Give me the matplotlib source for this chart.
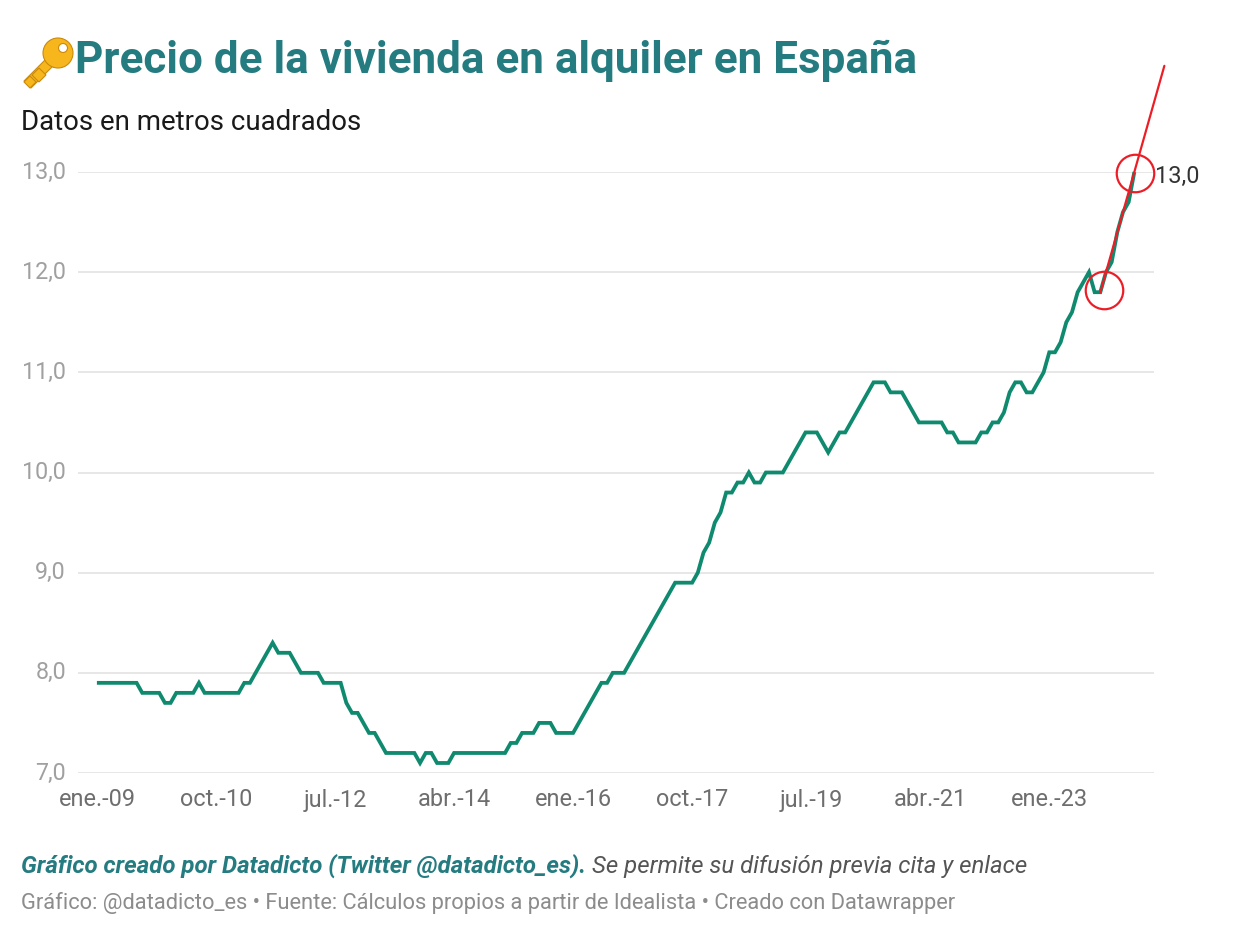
import numpy as np
import matplotlib
matplotlib.use("Agg")
import matplotlib.pyplot as plt
import matplotlib.transforms as mtransforms
from matplotlib.patches import Polygon, Ellipse

# ---------------- data (monthly, ene.-09 .. abr.-24), €/m2 ----------------
precio_2009 = [7.9, 7.9, 7.9, 7.9, 7.9, 7.9, 7.9, 7.9, 7.8, 7.8, 7.8, 7.8]
precio_2010 = [7.7, 7.7, 7.8, 7.8, 7.8, 7.8, 7.9, 7.8, 7.8, 7.8, 7.8, 7.8]
precio_2011 = [7.8, 7.8, 7.9, 7.9, 8.0, 8.1, 8.2, 8.3, 8.2, 8.2, 8.2, 8.1]
precio_2012 = [8.0, 8.0, 8.0, 8.0, 7.9, 7.9, 7.9, 7.9, 7.7, 7.6, 7.6, 7.5]
precio_2013 = [7.4, 7.4, 7.3, 7.2, 7.2, 7.2, 7.2, 7.2, 7.2, 7.1, 7.2, 7.2]
precio_2014 = [7.1, 7.1, 7.1, 7.2, 7.2, 7.2, 7.2, 7.2, 7.2, 7.2, 7.2, 7.2]
precio_2015 = [7.2, 7.3, 7.3, 7.4, 7.4, 7.4, 7.5, 7.5, 7.5, 7.4, 7.4, 7.4]
precio_2016 = [7.4, 7.5, 7.6, 7.7, 7.8, 7.9, 7.9, 8.0, 8.0, 8.0, 8.1, 8.2]
precio_2017 = [8.3, 8.4, 8.5, 8.6, 8.7, 8.8, 8.9, 8.9, 8.9, 8.9, 9.0, 9.2]
precio_2018 = [9.3, 9.5, 9.6, 9.8, 9.8, 9.9, 9.9, 10.0, 9.9, 9.9, 10.0, 10.0]
precio_2019 = [10.0, 10.0, 10.1, 10.2, 10.3, 10.4, 10.4, 10.4, 10.3, 10.2, 10.3, 10.4]
precio_2020 = [10.4, 10.5, 10.6, 10.7, 10.8, 10.9, 10.9, 10.9, 10.8, 10.8, 10.8, 10.7]
precio_2021 = [10.6, 10.5, 10.5, 10.5, 10.5, 10.5, 10.4, 10.4, 10.3, 10.3, 10.3, 10.3]
precio_2022 = [10.4, 10.4, 10.5, 10.5, 10.6, 10.8, 10.9, 10.9, 10.8, 10.8, 10.9, 11.0]
precio_2023 = [11.2, 11.2, 11.3, 11.5, 11.6, 11.8, 11.9, 12.0, 11.8, 11.8, 12.0, 12.1]
precio_2024 = [12.4, 12.6, 12.7, 13.0]

xtick_labels = ["ene.-09", "oct.-10", "jul.-12", "abr.-14", "ene.-16",
                "oct.-17", "jul.-19", "abr.-21", "ene.-23"]
xtick_step = 21  # months between tick labels
ytick_values = [7.0, 8.0, 9.0, 10.0, 11.0, 12.0, 13.0]
ytick_labels = ["7,0", "8,0", "9,0", "10,0", "11,0", "12,0", "13,0"]
last_label = "13,0"
trend_from_index = 177      # point where the red trend annotation starts
trend_extend_months = 5.3   # extension of the red line past the last point

precio = (precio_2009 + precio_2010 + precio_2011 + precio_2012 + precio_2013 +
          precio_2014 + precio_2015 + precio_2016 + precio_2017 + precio_2018 +
          precio_2019 + precio_2020 + precio_2021 + precio_2022 + precio_2023 +
          precio_2024)
meses = np.arange(len(precio))

# ---------------- styling ----------------
W, H = 1240, 931
DPI = 100
FONT = "Roboto"
TITLE_C = "#247b80"
LINE_C = "#0f8a6f"
RED = "#ee1c25"

plt.rcParams["font.family"] = [FONT, "DejaVu Sans"]

fig = plt.figure(figsize=(W / DPI, H / DPI), dpi=DPI)
fig.patch.set_facecolor("white")


def fx(px):
    return px / W


def fy(py):
    return 1 - py / H


def pt(px):
    return px * 72 / DPI


# axes placement in pixels: gridlines from x=78 to 1154, 13.0 at y=172, 7.0 at y=773
ax_l, ax_r, ax_t, ax_b = 78, 1154, 172, 773
ax = fig.add_axes([fx(ax_l), fy(ax_b), fx(ax_r - ax_l), (ax_b - ax_t) / H])
x0_px = 96.9
px_per_month = 5.669
ax.set_xlim(-(x0_px - ax_l) / px_per_month, (ax_r - x0_px) / px_per_month)
ax.set_ylim(7.0, 13.0)
for s in ax.spines.values():
    s.set_visible(False)
ax.set_xticks([])
ax.set_yticks([])
ax.patch.set_alpha(0)

for v in ytick_values:
    ax.axhline(v, color="#e2e2e2", lw=pt(1.6), zorder=1)

ax.plot(meses, precio, color=LINE_C, lw=pt(3.8), solid_joinstyle="miter",
        solid_capstyle="butt", clip_on=False, zorder=3)

# y labels (right aligned at x=66 px)
ytrans = mtransforms.blended_transform_factory(fig.transFigure, ax.transData)
for v, lab in zip(ytick_values, ytick_labels):
    fig.text(fx(66), v, lab, transform=ytrans, ha="right", va="center",
             fontsize=pt(23.2), color="#a0a0a0")

# x labels
xtrans = mtransforms.blended_transform_factory(ax.transData, fig.transFigure)
for i, lab in enumerate(xtick_labels):
    fig.text(i * xtick_step, fy(800), lab, transform=xtrans, ha="center",
             va="center", fontsize=pt(23.5), color="#6e6e6e")

# annotation of the last value
ax.annotate(last_label, xy=(meses[-1], precio[-1]), xytext=(pt(21), pt(-4)),
            textcoords="offset points", ha="left", va="center",
            fontsize=pt(23.5), color="#333333", annotation_clip=False)

# red hand-drawn style trend annotation
i0 = trend_from_index
slope = (precio[-1] - precio[i0]) / (meses[-1] - meses[i0])
x_end = meses[-1] + trend_extend_months
y_end = precio[-1] + slope * trend_extend_months
ax.plot([meses[i0], x_end], [precio[i0], y_end], color=RED, lw=pt(2.2),
        clip_on=False, zorder=5, solid_capstyle="round")
for idx, off in ((i0, (pt(4), pt(2.5))), (len(precio) - 1, (pt(0.7), pt(-1.2)))):
    tr = ax.transData + mtransforms.ScaledTranslation(off[0] / 72, off[1] / 72,
                                                      fig.dpi_scale_trans)
    ax.plot([meses[idx]], [precio[idx]], marker="o", markersize=pt(37.5),
            markerfacecolor="none", markeredgecolor=RED, markeredgewidth=pt(2.2),
            transform=tr, clip_on=False, zorder=6)

# ---------------- titles ----------------
# key icon (drawn)
kx, ky = 47, 61
gold = "#f6b61c"
edge = "#c98a0e"


def poly(pts, z):
    p = Polygon([(fx(a), fy(b)) for a, b in pts], closed=True,
                transform=fig.transFigure, facecolor=gold, edgecolor=edge,
                lw=0.8, zorder=z)
    fig.patches.append(p)


poly([(kx + 4, ky - 7), (kx + 11, ky + 0), (kx - 16, ky + 27), (kx - 23, ky + 20)], 2)
poly([(kx - 8, ky + 7), (kx - 1, ky + 14), (kx - 8, ky + 21), (kx - 15, ky + 14)], 2)
poly([(kx - 17, ky + 15), (kx - 11, ky + 21), (kx - 17, ky + 27), (kx - 23, ky + 21)], 2)
head = Ellipse((fx(kx + 11), fy(ky - 8)), width=fx(30), height=30 / H,
               transform=fig.transFigure, facecolor=gold, edgecolor=edge,
               lw=0.8, zorder=3)
fig.patches.append(head)
hole = Ellipse((fx(kx + 16), fy(ky - 13)), width=fx(9), height=9 / H,
               transform=fig.transFigure, facecolor="white", edgecolor=edge,
               lw=0.8, zorder=4)
fig.patches.append(hole)

fig.text(fx(75), fy(61), "Precio de la vivienda en alquiler en España",
         ha="left", va="center", fontsize=pt(44), fontweight="bold",
         color=TITLE_C)
fig.text(fx(21), fy(122), "Datos en metros cuadrados", ha="left", va="center",
         fontsize=pt(27.6), color="#1a1a1a")

# ---------------- footer ----------------
t1 = fig.text(fx(21), fy(866), "Gráfico creado por Datadicto (Twitter @datadicto_es).",
              ha="left", va="center", fontsize=pt(24), fontweight="bold",
              fontstyle="italic", color=TITLE_C)
fig.canvas.draw()
bb = t1.get_window_extent()
fig.text(bb.x1 / W + fx(6), fy(866), "Se permite su difusión previa cita y enlace",
         ha="left", va="center", fontsize=pt(24), fontstyle="italic",
         color="#555555")
fig.text(fx(21), fy(903),
         "Gráfico: @datadicto_es • Fuente: Cálculos propios a partir de Idealista • Creado con Datawrapper",
         ha="left", va="center", fontsize=pt(21.9), color="#8c8c8c")

fig.savefig("out.png", dpi=DPI, facecolor="white")
